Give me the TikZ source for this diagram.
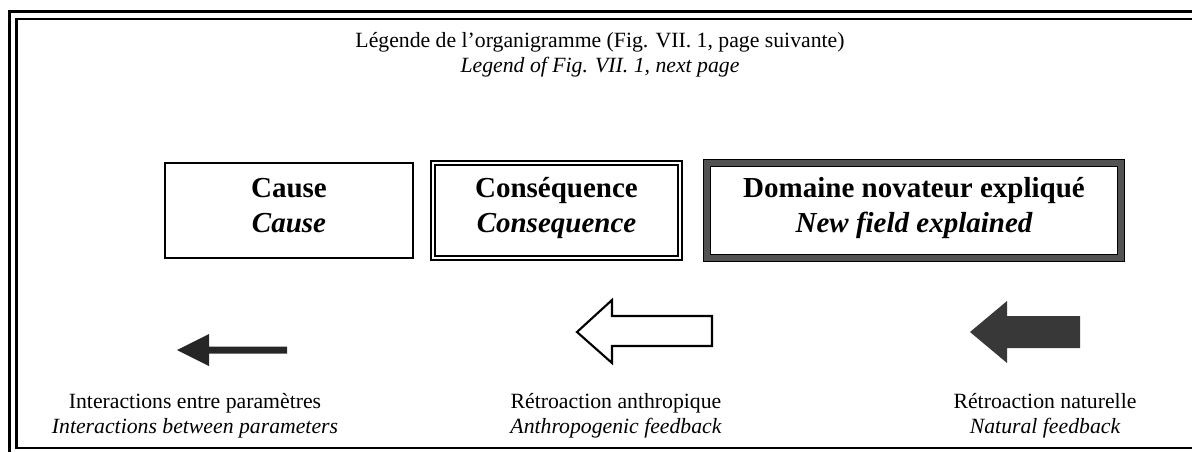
\documentclass[tikz,border=0pt]{standalone}
\usepackage{fontspec}
\setmainfont{Liberation Serif}
\tikzset{
  body/.style={font=\fontsize{16.3}{18.75}\selectfont, anchor=base, inner sep=0pt},
  bodyit/.style={font=\fontsize{16.3}{18.75}\selectfont\itshape, anchor=base, inner sep=0pt},
  boxt/.style={font=\fontsize{21.75}{26}\selectfont\bfseries, anchor=base, inner sep=0pt},
  boxit/.style={font=\fontsize{21.75}{26}\selectfont\bfseries\itshape, anchor=base, inner sep=0pt},
  causebox/.style={draw=black, line width=2pt, minimum height=71.25pt, inner sep=0pt},
  consbox/.style={draw=black, line width=1.2pt, double=white, double distance=2pt, minimum height=71.25pt, inner sep=0pt},
  domainbox/.style={draw=black, line width=1.1pt, double=black!68, double distance=4pt, minimum height=71.25pt, inner sep=0pt},
  darkarrow/.style={fill=black!85},
  hollowarrow/.style={draw=black, line width=1.6pt, fill=white, line join=miter},
}
\begin{document}
\begin{tikzpicture}[x=0.75pt,y=-0.75pt]
\useasboundingbox (0,0) rectangle (1192,451);
\clip (0,0) rectangle (1192,451);
% outer frame (cut at right and bottom)
\draw[line width=2.6pt] (9.5,11.5) rectangle (1230,470);
\draw[line width=1.8pt] (16.5,19) rectangle (1210,448);
% title
\node (t1) [body] at (600,47) {Légende de l’organigramme (Fig. VII. 1, page suivante)};
\node (t2) [bodyit] at (600,72) {Legend of Fig. VII. 1, next page};
% boxes
\node (cause) [causebox, minimum width=186pt] at (289,210.5) {};
\node (cons) [consbox, minimum width=185.25pt] at (556.5,210.5) {};
\node (dom) [domainbox, minimum width=310.5pt] at (914,210.5) {};
\node (c1) [boxt] at (289,197) {Cause};
\node (c2) [boxit] at (289,232) {Cause};
\node (s1) [boxt] at (556.5,197) {Conséquence};
\node (s2) [boxit] at (556.5,232) {Consequence};
\node (d1) [boxt] at (914,197) {Domaine novateur expliqué};
\node (d2) [boxit] at (914,232) {New field explained};
% arrows
\fill[darkarrow] (177,350) -- (209,334) -- (209,346.5) -- (287,346.5) -- (287,353.5) -- (209,353.5) -- (209,366) -- cycle;
\draw[hollowarrow] (577,332) -- (612,300) -- (612,316) -- (712,316) -- (712,346) -- (612,346) -- (612,363) -- cycle;
\fill[darkarrow, fill=black!78] (970,332) -- (1007,301) -- (1007,316) -- (1080,316) -- (1080,348) -- (1007,348) -- (1007,363) -- cycle;
% labels
\node (l1) [body] at (195,408) {Interactions entre paramètres};
\node (l2) [bodyit] at (195,433) {Interactions between parameters};
\node (m1) [body] at (616,408) {Rétroaction anthropique};
\node (m2) [bodyit] at (616,433) {Anthropogenic feedback};
\node (r1) [body] at (1045,408) {Rétroaction naturelle};
\node (r2) [bodyit] at (1045,433) {Natural feedback};
\end{tikzpicture}
\end{document}
